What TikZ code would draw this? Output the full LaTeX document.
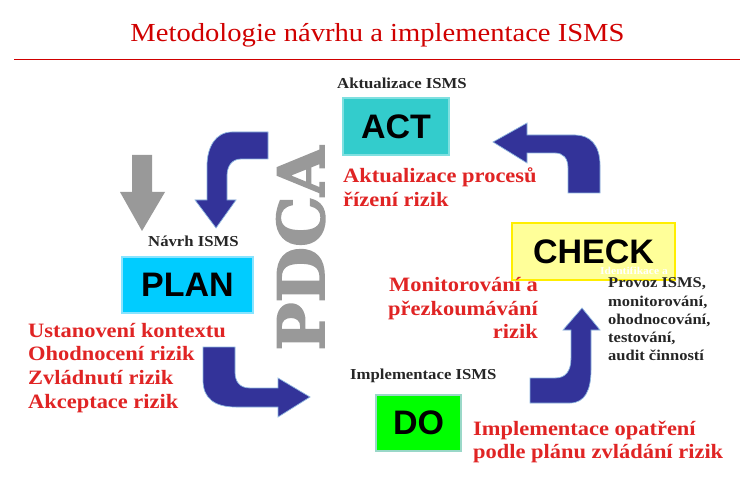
\documentclass[tikz,border=0pt]{standalone}
\usepackage{fontspec}
\setmainfont[FakeStretch=1.1]{Liberation Serif}
\newfontfamily\boxfont{Liberation Sans}
\newfontfamily\pdcafont[FakeBold=2.5]{DejaVu Serif}
\definecolor{titlered}{HTML}{D00000}
\definecolor{labred}{HTML}{E02424}
\definecolor{arrblue}{HTML}{333399}
\definecolor{arrhalo}{HTML}{8FB8E0}
\definecolor{arrgray}{HTML}{999999}
\definecolor{actfill}{HTML}{33CCCC}
\definecolor{actline}{HTML}{7FE0E0}
\definecolor{planfill}{HTML}{00CCFF}
\definecolor{planline}{HTML}{88E4FF}
\definecolor{dofill}{HTML}{00FF00}
\definecolor{doline}{HTML}{9AD8C8}
\definecolor{checkfill}{HTML}{FFFF99}
\definecolor{checkline}{HTML}{FFEE00}
\begin{document}
\begin{tikzpicture}[x=1bp,y=-1bp,
  phasebox/.style={inner sep=0pt, outer sep=0pt, line width=1.2bp,
    font=\boxfont\bfseries\fontsize{34bp}{36bp}\selectfont, text=black},
  redlab/.style={inner sep=0pt, anchor=base west, text=labred,
    font=\bfseries\fontsize{20.4bp}{24bp}\selectfont},
  redlabr/.style={redlab, anchor=base east},
  blacklab/.style={inner sep=0pt, anchor=base west, text=black!85,
    font=\bfseries\fontsize{15.2bp}{18bp}\selectfont},
  smalllab/.style={inner sep=0pt, anchor=base west, text=black!85,
    font=\bfseries\fontsize{15bp}{18bp}\selectfont},
  bluearrow/.style={fill=arrblue, draw=arrhalo, line width=0.7bp},
  grayarrow/.style={fill=arrgray, draw=none}]
\useasboundingbox[fill=white] (0,0) rectangle (755,495);

% title
\node[inner sep=0pt, anchor=base, text=titlered,
  font=\fontsize{26bp}{30bp}\selectfont] (title) at (377.5,42)
  {Metodologie návrhu a implementace ISMS};
\coordinate (ruleL) at (14,60);
\coordinate (ruleR) at (740,60);
\draw[titlered, line width=1bp] (ruleL) -- (ruleR);

% PDCA
\node[inner sep=0pt, anchor=base, rotate=90, text=arrgray,
  font=\pdcafont\bfseries\fontsize{64bp}{70bp}\selectfont] (pdca) at (324,248.5) {PDCA};

% arrows
\draw[grayarrow] (132,155) -- (152,155) -- (152,192) -- (165,192) -- (142,231)
  -- (120,192) -- (132,192) -- cycle;
% ACT -> PLAN
\draw[bluearrow] (268,132) -- (232,132) .. controls (215,132) and (207,148) .. (207,166)
  -- (207,200) -- (195,200) -- (216,228) -- (236,200) -- (227,200) -- (227,176)
  .. controls (227,166) and (232,159) .. (241,159) -- (268,159) -- cycle;
% PLAN -> DO
\draw[bluearrow] (203,347) -- (203,380) .. controls (203,399) and (215,407) .. (236,407)
  -- (278,407) -- (278,417) -- (310,397) -- (278,378) -- (278,388) -- (250,388)
  .. controls (240,388) and (235,382) .. (235,372) -- (235,347) -- cycle;
% DO -> CHECK
\draw[bluearrow] (530,403) -- (570,403) .. controls (585,403) and (591,390) .. (591,370)
  -- (591,330) -- (600,330) -- (582,308) -- (563,330) -- (571,330) -- (571,358)
  .. controls (571,372) and (565,378) .. (555,378) -- (530,378) -- cycle;
% CHECK -> ACT
\draw[bluearrow] (568,193) -- (600,193) -- (600,165) .. controls (600,145) and (590,135) .. (575,135)
  -- (527,135) -- (527,123) -- (493,142) -- (527,163) -- (527,153) -- (555,153)
  .. controls (563,153) and (568,158) .. (568,168) -- cycle;

% phase boxes
\node[phasebox, fill=actfill, draw=actline, minimum width=106bp, minimum height=57bp]
  (act) at (396,126.5) {ACT};
\node[phasebox, fill=planfill, draw=planline, minimum width=131bp, minimum height=56bp]
  (plan) at (187.5,285) {PLAN};
\node[phasebox, fill=checkfill, draw=checkline, minimum width=163bp, minimum height=57bp]
  (check) at (593.5,251.5) {CHECK};
\node[phasebox, fill=dofill, draw=doline, minimum width=85bp, minimum height=56bp]
  (do) at (418.5,423) {DO};

% labels above boxes
\node[blacklab] (actlab) at (337,89) {Aktualizace ISMS};
\node[blacklab] (planlab) at (148,247) {Návrh ISMS};
\node[blacklab] (dolab) at (350,379) {Implementace ISMS};

% ACT red text
\node[redlab] (act1) at (343,183) {Aktualizace procesů};
\node[redlab] (act2) at (343,206.5) {řízení rizik};

% PLAN red text
\node[redlab] (plan1) at (28,337) {Ustanovení kontextu};
\node[redlab] (plan2) at (28,360.7) {Ohodnocení rizik};
\node[redlab] (plan3) at (28,384.4) {Zvládnutí rizik};
\node[redlab] (plan4) at (28,408) {Akceptace rizik};

% CHECK red text
\node[redlabr] (chk1) at (538,292) {Monitorování a};
\node[redlabr] (chk2) at (538,315) {přezkoumávání};
\node[redlabr] (chk3) at (538,338) {rizik};

% DO red text
\node[redlab] (do1) at (473,435) {Implementace opatření};
\node[redlab] (do2) at (473,458) {podle plánu zvládání rizik};

% CHECK details
\node[inner sep=0pt, anchor=base west, text=white,
  font=\bfseries\fontsize{10.5bp}{12bp}\selectfont] (ident) at (600,275) {Identifikace a};
\node[smalllab] (prov1) at (608,288) {Provoz ISMS,};
\node[smalllab] (prov2) at (608,306) {monitorování,};
\node[smalllab] (prov3) at (608,324) {ohodnocování,};
\node[smalllab] (prov4) at (608,342) {testování,};
\node[smalllab] (prov5) at (608,360) {audit činností};
\end{tikzpicture}
\end{document}
